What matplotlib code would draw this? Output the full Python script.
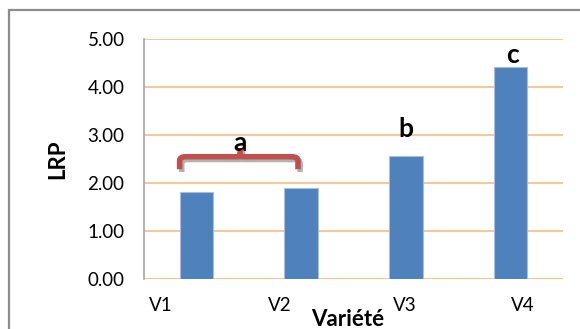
import numpy as np
import matplotlib.pyplot as plt
from matplotlib.path import Path
from matplotlib.patches import PathPatch, Rectangle
import matplotlib.patheffects as pe

plt.rcParams['font.family'] = ['Lato', 'DejaVu Sans']

varietes = ['V1', 'V2', 'V3', 'V4']
lrp = [1.81, 1.89, 2.57, 4.41]

# groupes statistiques (lettre, x, y)
lettres = ['a', 'b', 'c']
lettres_x = [0.42, 2.0, 3.02]
lettres_y = [2.84, 3.13, 4.67]

# positions des étiquettes de l'axe x
etiq_x = [-0.34, 0.80, 1.99, 3.12]

fig = plt.figure(figsize=(5.8, 3.29), dpi=100)
ax = fig.add_axes([0.2483, 0.1511, 0.7224, 0.7304])

x = np.arange(len(varietes))
ax.bar(x, lrp, width=0.32, color='#4F81BD', edgecolor='#A7BFDF', linewidth=0.8, zorder=3)

ax.set_xlim(-0.5, 3.5)
ax.set_ylim(0, 5)
ax.set_yticks(np.arange(0, 5.01, 1))
ax.set_yticklabels(['%.2f' % v for v in np.arange(0, 5.01, 1)], fontsize=13.5)
ax.set_xticks(etiq_x)
ax.set_xticklabels(varietes, fontsize=13.5)
ax.tick_params(axis='y', length=0, pad=14)
ax.tick_params(axis='x', length=0, pad=13)

ax.yaxis.grid(True, color='#FAC090', linewidth=1.3, zorder=0)
ax.set_axisbelow(True)
for s in ['top', 'right', 'bottom']:
    ax.spines[s].set_visible(False)
ax.spines['left'].set_color('#A6A6A6')
ax.spines['left'].set_linewidth(1.2)
ax.axhline(0, color='#FAC090', linewidth=1.8, zorder=2)

ax.set_ylabel('LRP', fontsize=16, fontweight='bold', labelpad=14)
ax.set_xlabel('Variété', fontsize=16, fontweight='bold')
ax.xaxis.set_label_coords(0.485, -0.125)

# accolade au-dessus de V1 et V2
x0, x1, xm = -0.16, 0.97, 0.42
yb, yl, yp = 2.29, 2.55, 2.73
r = 0.06
verts = [(x0, yb), (x0, yl - 0.08), (x0, yl), (x0 + r, yl),
         (xm - 0.02, yl), (xm, yl), (xm, yp),
         (xm, yl), (xm + 0.02, yl), (x1 - r, yl),
         (x1, yl), (x1, yl - 0.08), (x1, yb)]
codes = [Path.MOVETO, Path.LINETO, Path.CURVE3, Path.CURVE3,
         Path.LINETO, Path.CURVE3, Path.CURVE3,
         Path.MOVETO, Path.CURVE3, Path.LINETO,
         Path.CURVE3, Path.CURVE3, Path.LINETO]
accolade = PathPatch(Path(verts, codes), facecolor='none', edgecolor='#C0504D',
                     linewidth=4, capstyle='butt', zorder=5)
accolade.set_path_effects([pe.SimpleLineShadow(offset=(1.5, -2), alpha=0.3), pe.Normal()])
ax.add_patch(accolade)

for l, lx, ly in zip(lettres, lettres_x, lettres_y):
    ax.text(lx, ly, l, fontsize=19, fontweight='bold', ha='center', va='center', zorder=6)

# cadre du graphique
fig.patches.append(Rectangle((9 / 580, -0.1), 1.2, 1 - 10 / 329 + 0.1,
                             transform=fig.transFigure, fill=False,
                             edgecolor='#8C8C8C', linewidth=1.6))

fig.savefig('out.png', dpi=100)
